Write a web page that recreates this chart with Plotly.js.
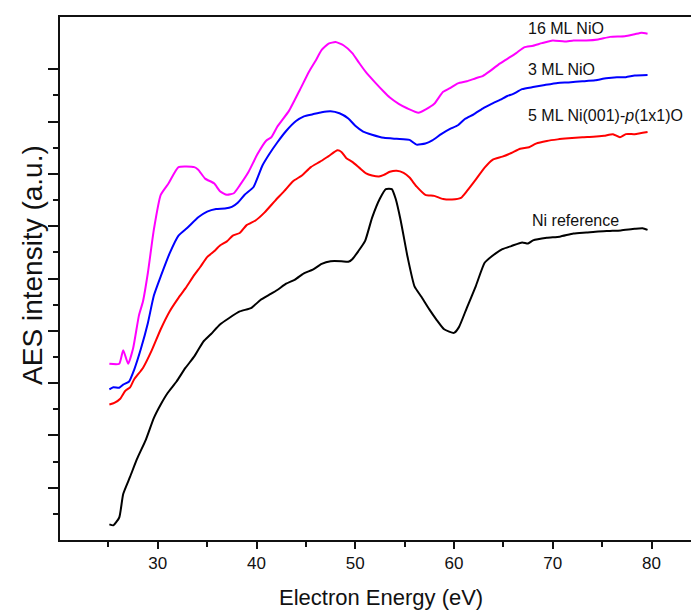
<!DOCTYPE html>
<html>
<head>
<meta charset="utf-8">
<script src="https://cdn.plot.ly/plotly-3.0.1.min.js"></script>
<style>
html,body{margin:0;padding:0;background:#fff;overflow:hidden;}
#chart{width:691px;height:610px;}
</style>
</head>
<body>
<div id="chart"></div>
<script>
// Electron energy (eV) and AES intensity (a.u., offset curves)
const energy16 = [25.1,26.1,26.5,27.0,27.5,28.1,28.5,29.0,29.6,30.3,31.1,32.1,33.7,34.1,34.8,35.7,36.3,37.0,37.7,38.3,39.2,40.1,41.0,41.5,42.1,43.3,44.4,45.3,46.0,46.6,47.3,48.0,48.8,49.7,50.4,51.1,52.0,52.9,53.5,54.4,55.3,56.4,57.1,58.0,58.9,59.6,60.4,61.3,62.2,62.9,63.6,64.5,65.4,66.3,67.1,68.0,68.9,70.0,71.2,72.1,73.4,74.6,75.8,77.3,78.3,79.0,79.6];
const int16 = [3.37,3.37,3.63,3.37,3.66,4.30,4.56,5.11,5.93,6.60,6.82,7.13,7.13,7.08,6.91,6.82,6.67,6.60,6.63,6.78,7.04,7.38,7.64,7.70,7.90,8.21,8.61,8.95,9.17,9.37,9.49,9.52,9.46,9.31,9.12,8.94,8.75,8.57,8.46,8.34,8.25,8.17,8.23,8.34,8.57,8.64,8.73,8.77,8.83,8.87,8.96,9.09,9.20,9.31,9.42,9.45,9.50,9.55,9.53,9.55,9.55,9.57,9.62,9.63,9.67,9.70,9.68];

const energy3 = [25.1,25.5,26.1,26.5,27.1,27.6,28.3,29.0,29.6,30.3,31.2,32.1,33.0,34.1,35.0,35.9,36.8,37.5,38.1,38.8,39.7,40.6,41.3,42.1,43.0,44.0,44.8,45.7,46.6,47.5,48.4,49.3,50.0,50.8,51.7,52.9,54.2,55.5,56.2,57.1,57.8,58.7,59.6,60.4,61.1,62.0,62.9,63.8,64.7,65.4,66.0,66.9,68.0,69.2,70.5,71.6,73.0,74.3,75.4,76.5,77.4,78.3,79.6];
const int3 = [2.88,2.92,2.91,2.97,3.03,3.25,3.66,4.15,4.67,5.04,5.48,5.82,5.97,6.17,6.28,6.33,6.34,6.37,6.45,6.60,6.75,7.16,7.38,7.60,7.82,8.01,8.10,8.14,8.18,8.20,8.16,8.06,7.92,7.81,7.75,7.69,7.67,7.65,7.56,7.58,7.64,7.76,7.86,7.93,8.05,8.14,8.25,8.34,8.42,8.49,8.53,8.62,8.66,8.70,8.74,8.75,8.77,8.79,8.83,8.85,8.85,8.88,8.89];

const energy5 = [25.1,25.6,26.2,26.7,27.2,27.6,28.5,29.4,30.3,31.2,32.1,32.8,33.7,34.3,35.0,35.7,36.3,37.0,37.6,38.3,39.0,39.9,40.8,41.9,42.8,43.7,44.6,45.5,46.4,47.3,48.2,48.6,49.1,49.7,50.4,51.1,51.7,52.4,52.9,53.5,54.2,54.9,55.5,56.2,57.1,58.0,58.9,59.8,60.7,61.3,62.2,63.1,63.9,64.9,65.8,66.7,67.6,68.3,69.4,70.5,71.6,73.0,74.1,75.2,76.1,76.8,77.4,78.3,79.6];
const int5 = [2.59,2.62,2.70,2.85,2.92,3.07,3.29,3.63,4.03,4.37,4.63,4.81,5.07,5.22,5.41,5.52,5.63,5.71,5.82,5.87,6.02,6.11,6.26,6.49,6.67,6.86,6.97,7.13,7.23,7.34,7.45,7.42,7.30,7.23,7.12,7.01,6.97,6.95,6.98,7.04,7.06,7.02,6.93,6.76,6.60,6.58,6.52,6.51,6.54,6.67,6.89,7.12,7.27,7.33,7.40,7.48,7.51,7.58,7.63,7.66,7.68,7.70,7.71,7.73,7.76,7.70,7.76,7.76,7.80];

const energyNi = [25.1,25.5,26.1,26.5,27.2,27.9,28.8,29.6,30.3,31.0,31.9,32.8,33.7,34.6,35.4,36.3,37.2,38.3,39.5,40.4,41.3,42.1,43.0,43.9,44.8,45.7,46.6,47.5,48.6,49.3,49.7,50.3,51.0,51.7,52.5,53.1,53.7,54.1,54.6,55.3,56.0,56.7,57.5,58.2,59.0,60.0,60.5,61.3,62.2,63.1,63.8,64.9,65.8,66.9,67.5,68.0,69.4,70.7,72.1,73.4,74.6,75.8,76.9,78.3,79.1,79.6];
const intNi = [0.30,0.28,0.43,0.88,1.21,1.55,1.92,2.33,2.59,2.81,3.03,3.29,3.51,3.79,3.94,4.12,4.24,4.37,4.44,4.59,4.69,4.78,4.90,4.98,5.10,5.17,5.28,5.33,5.33,5.32,5.37,5.52,5.72,6.16,6.53,6.71,6.71,6.52,6.11,5.41,4.85,4.65,4.41,4.22,4.03,3.96,4.07,4.44,4.85,5.30,5.42,5.56,5.62,5.69,5.67,5.73,5.78,5.80,5.86,5.88,5.90,5.91,5.92,5.95,5.96,5.93];

const seriesNames = ['16 ML NiO','3 ML NiO','5 ML Ni(001)-p(1x1)O','Ni reference'];
const seriesColors = ['#ff00ff','#0000ff','#ff0000','#000000'];
const xTickVals = [30,40,50,60,70,80];
const xTickText = ['30','40','50','60','70','80'];
const yMajorTicks = [1,2,3,4,5,6,7,8,9];
const yMinorTicks = [0.5,1.5,2.5,3.5,4.5,5.5,6.5,7.5,8.5];

const xs = [energy16, energy3, energy5, energyNi];
const ys = [int16, int3, int5, intNi];

const traces = xs.map((x, i) => ({
  x: x, y: ys[i], type: 'scatter', mode: 'lines', name: seriesNames[i],
  line: {color: seriesColors[i], width: 2, shape: 'spline', smoothing: 0.5}, hoverinfo: 'x+y+name'
}));

const font = 'Liberation Sans, Arial, Helvetica, sans-serif';
const labelFont = {family: font, size: 16, color: '#111'};

const annotations = [
  {text: '16 ML NiO', x: 67.31, y: 9.78},
  {text: '3 ML NiO', x: 67.31, y: 9.0},
  {text: '5 ML Ni(001)-<i>p</i>(1x1)O', x: 67.31, y: 8.11},
  {text: 'Ni reference', x: 67.72, y: 6.11}
].map(a => Object.assign({xref: 'x', yref: 'y', xanchor: 'left', yanchor: 'middle', showarrow: false, font: labelFont}, a));

annotations.push({
  text: 'AES intensity (a.u.)', xref: 'paper', yref: 'paper', x: -0.0428, y: 0.526,
  xanchor: 'center', yanchor: 'middle', textangle: -90, showarrow: false,
  font: {family: font, size: 28, color: '#111'}
});
annotations.push({
  text: 'Electron Energy (eV)', xref: 'paper', yref: 'paper', x: 0.508, y: -0.109,
  xanchor: 'center', yanchor: 'middle', showarrow: false,
  font: {family: font, size: 22, color: '#111'}
});

const layout = {
  width: 691, height: 610,
  margin: {l: 60, r: 0, t: 17, b: 70, pad: 0},
  paper_bgcolor: '#fff', plot_bgcolor: '#fff',
  showlegend: false,
  font: {family: font, color: '#111'},
  xaxis: {
    range: [20.1, 84.0], showgrid: false, zeroline: false,
    showline: true, linecolor: '#111', linewidth: 2, mirror: true,
    tickmode: 'array', tickvals: xTickVals, ticktext: xTickText,
    ticks: 'outside', ticklen: 7, tickwidth: 2, tickcolor: '#111',
    tickfont: {family: font, size: 17, color: '#111'},
    minor: {tickmode: 'linear', tick0: 25, dtick: 10, ticks: 'outside', ticklen: 5, tickwidth: 2, tickcolor: '#111', showgrid: false}
  },
  yaxis: {
    range: [0, 10.0], showgrid: false, zeroline: false,
    showline: true, linecolor: '#111', linewidth: 2, mirror: false,
    tickmode: 'array', tickvals: yMajorTicks, showticklabels: false,
    ticks: 'outside', ticklen: 10, tickwidth: 2, tickcolor: '#111',
    minor: {tickmode: 'array', tickvals: yMinorTicks, ticks: 'outside', ticklen: 5, tickwidth: 2, tickcolor: '#111', showgrid: false}
  },
  annotations: annotations
};

Plotly.newPlot('chart', traces, layout, {displayModeBar: false, staticPlot: true});
</script>
</body>
</html>
